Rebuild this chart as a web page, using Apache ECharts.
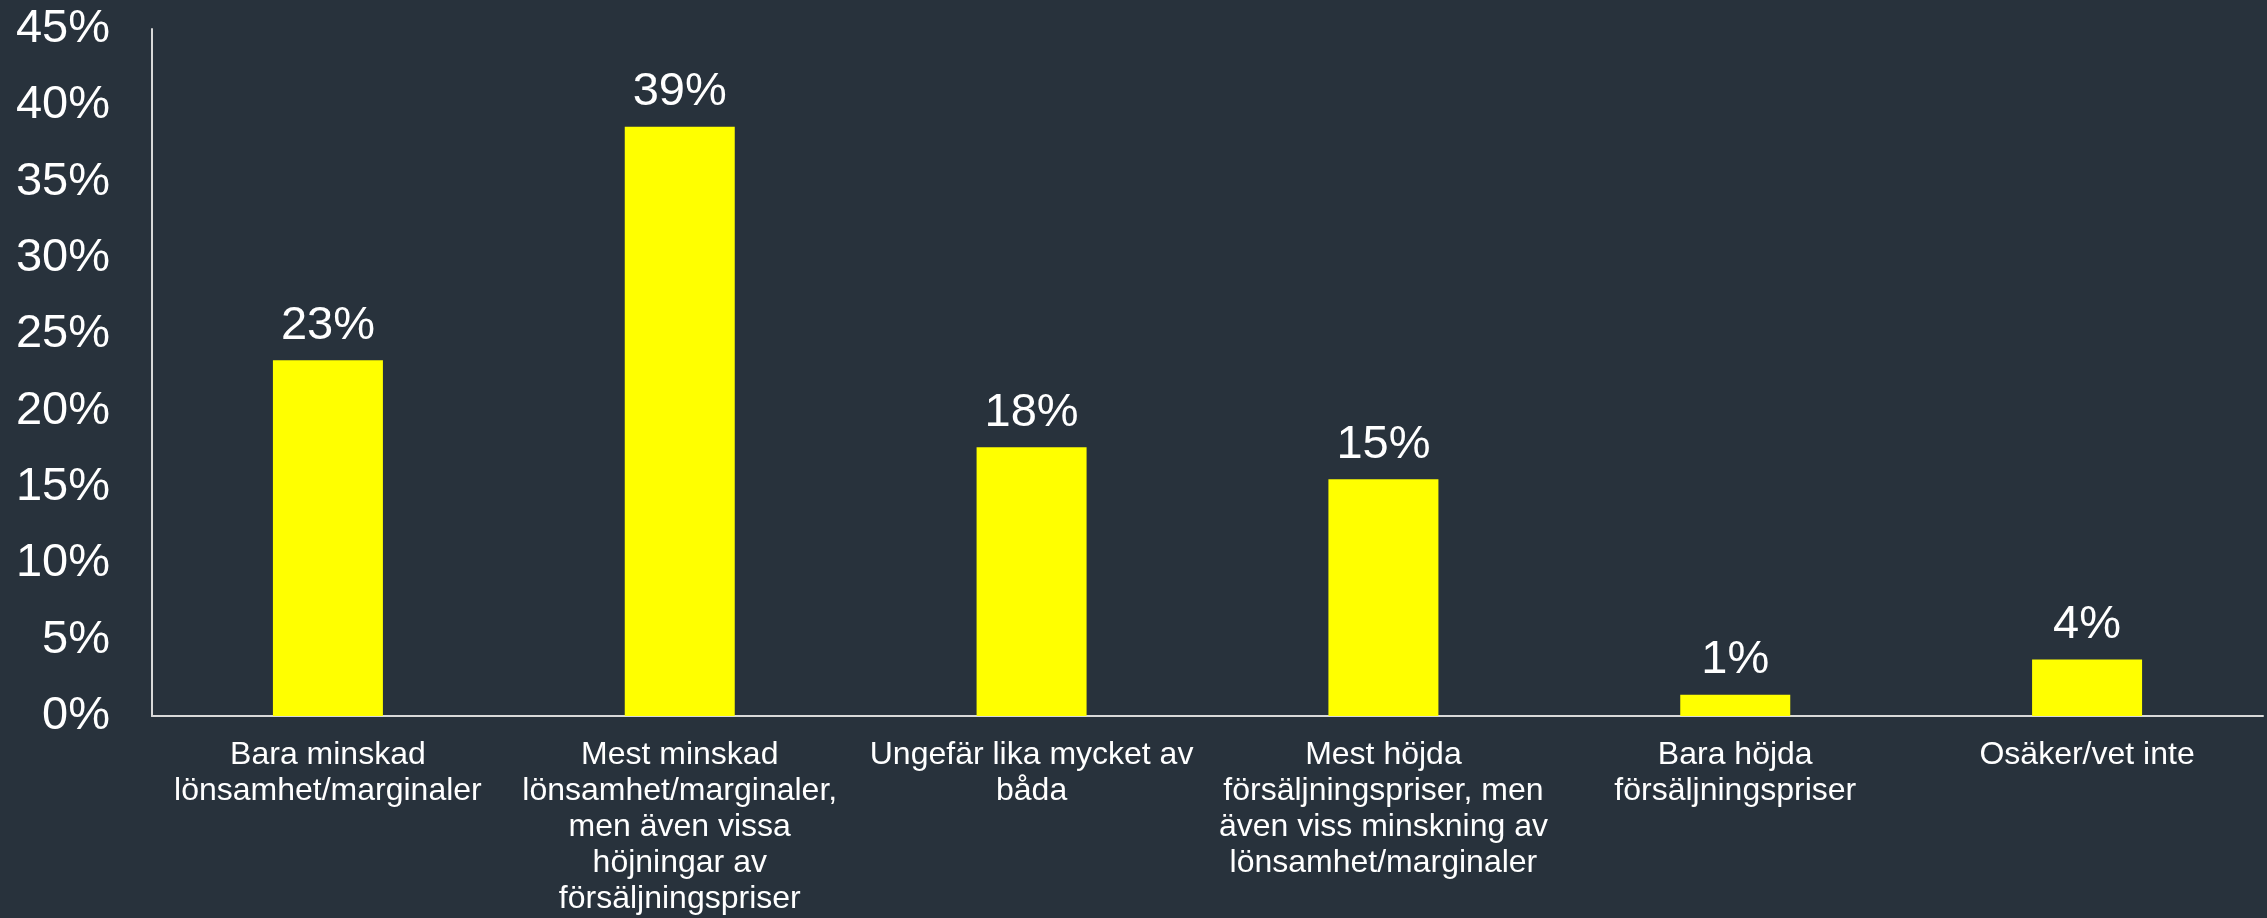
<!DOCTYPE html>
<html>
<head>
<meta charset="utf-8">
<script src="https://cdn.jsdelivr.net/npm/echarts@6/dist/echarts.min.js"></script>
<style>
html,body{margin:0;padding:0;background:#28323c;}
#chart{width:2267px;height:918px;}
</style>
</head>
<body>
<div id="chart"></div>
<script>
const categories = [
  "Bara minskad\nlönsamhet/marginaler",
  "Mest minskad\nlönsamhet/marginaler,\nmen även vissa\nhöjningar av\nförsäljningspriser",
  "Ungefär lika mycket av\nbåda",
  "Mest höjda\nförsäljningspriser, men\näven viss minskning av\nlönsamhet/marginaler",
  "Bara höjda\nförsäljningspriser",
  "Osäker/vet inte"
];
const values = [23.3, 38.6, 17.6, 15.5, 1.4, 3.7];
const valueLabels = ["23%", "39%", "18%", "15%", "1%", "4%"];
const yTicks = [0, 5, 10, 15, 20, 25, 30, 35, 40, 45];

const chart = echarts.init(document.getElementById('chart'), null, {renderer: 'canvas'});
const font = "'Liberation Sans', Arial, sans-serif";
chart.setOption({
  backgroundColor: '#28323c',
  animation: false,
  grid: {left: 152, right: 4, top: 29, bottom: 202, containLabel: false, outerBoundsMode: 'none'},
  xAxis: {
    type: 'category',
    data: categories,
    axisLine: {show: true, lineStyle: {color: '#d9d9d9', width: 2}},
    axisTick: {show: false},
    axisLabel: {
      color: '#ffffff', fontFamily: font, fontSize: 32, lineHeight: 36,
      margin: 21, interval: 0, align: 'center'
    }
  },
  yAxis: {
    type: 'value',
    min: yTicks[0], max: yTicks[yTicks.length - 1], interval: 5,
    axisLine: {show: true, lineStyle: {color: '#d9d9d9', width: 2}},
    axisTick: {show: false},
    splitLine: {show: false},
    axisLabel: {
      color: '#ffffff', fontFamily: font, fontSize: 47, margin: 42,
      formatter: v => v + '%'
    }
  },
  series: [{
    type: 'bar',
    data: values,
    barWidth: 110,
    itemStyle: {color: '#ffff00'},
    label: {
      show: true, position: 'top', distance: 11,
      color: '#ffffff', fontFamily: font, fontSize: 47, lineHeight: 47,
      formatter: p => valueLabels[p.dataIndex]
    }
  }]
});
</script>
</body>
</html>
